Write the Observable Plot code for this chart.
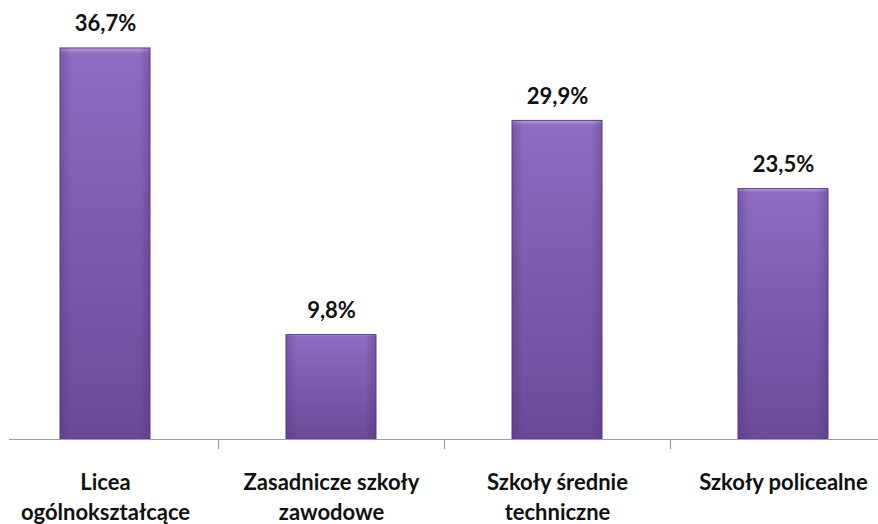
<!DOCTYPE html>
<html>
<head>
<meta charset="utf-8">
<script src="https://cdn.jsdelivr.net/npm/d3@7"></script>
<script src="https://cdn.jsdelivr.net/npm/@observablehq/plot@0.6"></script>
<style>
  body { margin: 0; background: #fff; }
  #chart svg { display: block; }
</style>
</head>
<body>
<div id="chart"></div>
<script>
const categories = ["Licea\nogólnokształcące", "Zasadnicze szkoły\nzawodowe", "Szkoły średnie\ntechniczne", "Szkoły policealne"];
const values = [36.7, 9.8, 29.9, 23.5];
const valueLabels = ["36,7%", "9,8%", "29,9%", "23,5%"];

const data = categories.map((c, i) => ({cat: c, value: values[i], label: valueLabels[i]}));

const font = "Lato, 'Open Sans', sans-serif";

const chart = Plot.plot({
  width: 878,
  height: 524,
  marginTop: 0,
  marginBottom: 85,
  marginLeft: 9,
  marginRight: 0,
  style: {fontFamily: font, background: "#fff", overflow: "visible"},
  x: {domain: categories, range: [-7.5, 896.5], paddingInner: 0.6, paddingOuter: 0.3, axis: null},
  y: {domain: [0, 41.2], axis: null},
  marks: [
    Plot.barY(data, {x: "cat", y: "value", fill: "url(#barGrad)", stroke: "#5b3f88", strokeWidth: 1, inset: 0}),
    Plot.barY(data, {x: "cat", y: "value", fill: "url(#sideGrad)", inset: 0}),
    Plot.text(data, {x: "cat", y: "value", text: "label", dy: -24, fontSize: 22, fontWeight: "bold", fill: "#111"}),
    Plot.ruleY([0], {stroke: "#a0a0a0", strokeWidth: 1.2}),
    Plot.ruleX(categories.slice(1), {x: d => d, dx: -113, y1: 0, y2: -0.95, stroke: "#a0a0a0", strokeWidth: 1.2}),
    Plot.text(data, {x: "cat", text: "cat", frameAnchor: "bottom", lineAnchor: "top", dy: 29, lineHeight: 1.36, fontSize: 22, fontWeight: "bold", fill: "#111"})
  ]
});

const svg = d3.select(chart);
const defs = svg.insert("defs", ":first-child");
const g1 = defs.append("linearGradient").attr("id", "barGrad").attr("x1", 0).attr("y1", 0).attr("x2", 0).attr("y2", 1);
g1.append("stop").attr("offset", "0%").attr("stop-color", "#b9a0e3");
g1.append("stop").attr("offset", "1.5%").attr("stop-color", "#8d6cc2");
g1.append("stop").attr("offset", "100%").attr("stop-color", "#6a4a98");
const g2 = defs.append("linearGradient").attr("id", "sideGrad").attr("x1", 0).attr("y1", 0).attr("x2", 1).attr("y2", 0);
g2.append("stop").attr("offset", "0%").attr("stop-color", "#4a2f75").attr("stop-opacity", 0.35);
g2.append("stop").attr("offset", "12%").attr("stop-color", "#4a2f75").attr("stop-opacity", 0);
g2.append("stop").attr("offset", "88%").attr("stop-color", "#4a2f75").attr("stop-opacity", 0);
g2.append("stop").attr("offset", "100%").attr("stop-color", "#4a2f75").attr("stop-opacity", 0.35);

document.getElementById("chart").appendChild(chart);
</script>
</body>
</html>
